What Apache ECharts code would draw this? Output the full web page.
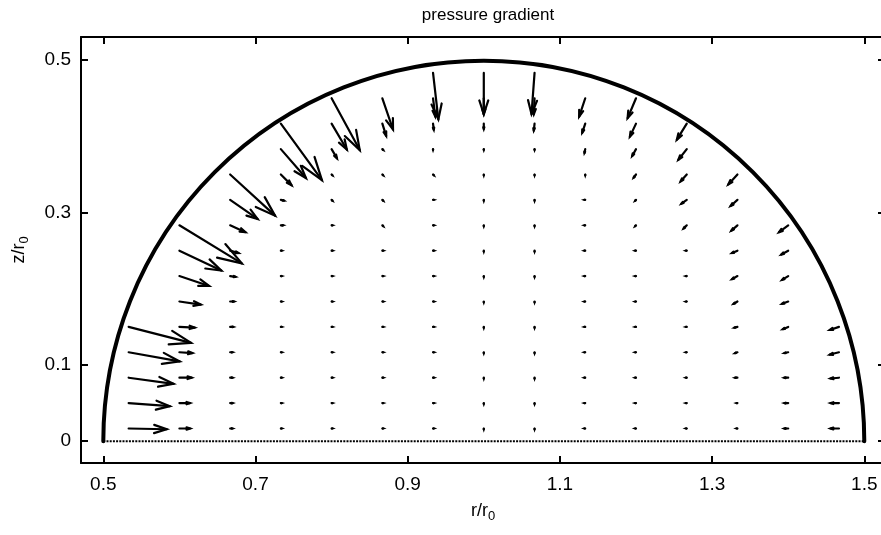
<!DOCTYPE html>
<html>
<head>
<meta charset="utf-8">
<script src="https://cdn.jsdelivr.net/npm/echarts@6/dist/echarts.min.js"></script>
<style>html,body{margin:0;padding:0;background:#fff}#c{width:881px;height:535px}</style>
</head>
<body>
<div id="c"></div>
<script>
// grid of arrow tails (r/r0 columns, z/r0 rows)
const rGrid = [0.5333, 0.6, 0.6667, 0.7333, 0.8, 0.8667, 0.9333, 1.0, 1.0667, 1.1333, 1.2, 1.2667, 1.3333, 1.4, 1.4667];
const zGrid = [0.0167, 0.05, 0.0833, 0.1167, 0.15, 0.1833, 0.2167, 0.25, 0.2833, 0.3167, 0.35, 0.3833, 0.4167, 0.45, 0.4833];
// vector components per column (rows from bottom), in r/r0 and z/r0 units as drawn
const uCols = [
  [0.050, 0.054, 0.059, 0.067, 0.082],
  [0.014, 0.014, 0.016, 0.017, 0.020, 0.028, 0.039, 0.055, 0.082],
  [0.003, 0.003, 0.003, 0.003, 0.004, 0.005, 0.007, 0.011, 0.020, 0.036, 0.059],
  [0.001, 0.001, 0.001, 0.001, 0.001, 0.001, 0.001, 0.001, 0.003, 0.004, 0.014, 0.033, 0.054],
  [0.001, 0.001, 0.001, 0.001, 0.001, 0.001, 0.001, 0.001, 0.001, 0.001, 0.001, 0.007, 0.020, 0.037],
  [0.001, 0.001, 0.001, 0.001, 0.001, 0.001, 0.001, 0.001, 0.001, 0.001, 0.001, 0.001, 0.005, 0.014],
  [0.001, 0.001, 0.001, 0.001, 0.001, 0.001, 0.001, 0.001, 0.001, 0.001, 0.001, 0.000, 0.001, 0.003, 0.007],
  [0.000, 0.000, 0.000, 0.000, 0.000, 0.000, 0.000, 0.000, 0.000, 0.000, 0.000, 0.000, 0.000, 0.000, 0.000],
  [0.000, 0.000, 0.000, 0.000, 0.000, 0.000, 0.000, 0.000, 0.000, 0.000, 0.000, 0.000, -0.001, -0.001, -0.004],
  [-0.001, -0.001, -0.001, -0.001, -0.001, -0.001, -0.001, -0.001, -0.001, -0.001, 0.000, -0.001, -0.004, -0.008],
  [-0.001, -0.001, -0.001, -0.001, -0.001, -0.001, -0.001, -0.001, -0.001, -0.001, -0.003, -0.005, -0.008, -0.011],
  [-0.001, -0.001, -0.001, -0.001, -0.001, -0.001, -0.001, -0.001, -0.004, -0.007, -0.008, -0.011, -0.013],
  [-0.001, -0.001, -0.003, -0.003, -0.004, -0.005, -0.007, -0.007, -0.008, -0.009, -0.012],
  [-0.005, -0.005, -0.005, -0.005, -0.007, -0.008, -0.008, -0.009, -0.012],
  [-0.011, -0.011, -0.011, -0.012, -0.012]
];
const vCols = [
  [-0.001, -0.004, -0.008, -0.012, -0.021],
  [0.000, 0.000, 0.000, -0.001, -0.001, -0.004, -0.013, -0.026, -0.050],
  [0.000, 0.000, 0.000, 0.000, 0.000, 0.000, -0.001, -0.003, -0.009, -0.025, -0.054],
  [0.000, 0.000, 0.000, 0.000, 0.000, 0.000, 0.000, 0.000, 0.000, -0.001, -0.014, -0.038, -0.074],
  [0.000, 0.000, 0.000, 0.000, 0.000, 0.000, 0.000, 0.000, 0.000, -0.001, -0.001, -0.012, -0.034, -0.068],
  [0.000, 0.000, 0.000, 0.000, 0.000, 0.000, 0.000, 0.000, -0.001, -0.001, -0.001, -0.001, -0.016, -0.041],
  [0.000, 0.000, 0.000, 0.000, 0.000, 0.000, 0.000, 0.000, 0.000, 0.000, -0.001, -0.001, -0.008, -0.024, -0.061],
  [-0.001, -0.001, -0.001, -0.001, -0.001, -0.001, -0.001, -0.001, -0.001, -0.001, -0.001, -0.001, -0.007, -0.021, -0.054],
  [-0.001, -0.001, -0.001, -0.001, -0.001, -0.001, -0.001, -0.001, -0.001, -0.001, -0.001, -0.001, -0.009, -0.021, -0.054],
  [0.000, 0.000, 0.000, 0.000, 0.000, 0.000, 0.000, 0.000, 0.000, 0.000, -0.001, -0.005, -0.012, -0.024],
  [0.000, 0.000, 0.000, 0.000, 0.000, 0.000, 0.000, 0.000, -0.001, -0.001, -0.004, -0.009, -0.017, -0.026],
  [0.000, 0.000, 0.000, 0.000, 0.000, 0.000, 0.000, 0.000, -0.004, -0.005, -0.009, -0.014, -0.021],
  [0.000, 0.000, 0.000, -0.001, -0.001, -0.003, -0.004, -0.003, -0.007, -0.008, -0.013],
  [0.000, 0.000, 0.000, -0.001, -0.003, -0.003, -0.005, -0.005, -0.009],
  [0.000, 0.000, -0.001, -0.003, -0.004]
];
// boundary: half circle centre (r, z) and radius
const boundary = [[1.0, 0.0, 0.5]];
const baseLine = [[0.5, 0], [1.5, 0]];
const xTicks = [0.5, 0.7, 0.9, 1.1, 1.3, 1.5];
const yTicks = [0, 0.1, 0.3, 0.5];
const xRange = [0.4707, 1.5272];
const yRange = [-0.0286, 0.5304];

const quiverData = [];
rGrid.forEach((r, i) => {
  uCols[i].forEach((u, j) => {
    quiverData.push([r, zGrid[j], u, vCols[i][j]]);
  });
});

const FONT = 'Liberation Sans, Arial, Helvetica, sans-serif';
const lineSt = { stroke: '#000', lineWidth: 2.2, fill: null, lineCap: 'round', lineJoin: 'miter' };

function axisCommon(pos, ticks, showLabel, range) {
  return {
    type: 'value', position: pos, min: range[0], max: range[1],
    axisLine: { show: true, onZero: false, lineStyle: { color: '#000', width: 2 } },
    axisTick: { show: true, inside: true, length: 7, customValues: ticks, lineStyle: { color: '#000', width: 2 } },
    axisLabel: { show: showLabel, customValues: ticks, color: '#000', fontSize: 19, fontFamily: FONT,
      margin: 10, formatter: v => String(v) },
    splitLine: { show: false }
  };
}

const xBottom = Object.assign(axisCommon('bottom', xTicks, true, xRange), {
  name: '{a|r/r}{b|0}', nameLocation: 'middle', nameGap: 36,
  nameTextStyle: { fontFamily: FONT, color: '#000', rich: {
    a: { fontSize: 18, lineHeight: 24, fontFamily: FONT, color: '#000' },
    b: { fontSize: 13, lineHeight: 13, verticalAlign: 'bottom', fontFamily: FONT, color: '#000' } } }
});
xBottom.axisLabel.margin = 12;
const xTop = axisCommon('top', xTicks, false, xRange);
const yLeft = Object.assign(axisCommon('left', yTicks, true, yRange), {
  name: '{a|z/r}{b|0}', nameLocation: 'middle', nameGap: 50, nameRotate: 90,
  nameTextStyle: { fontFamily: FONT, color: '#000', rich: {
    a: { fontSize: 18, lineHeight: 24, fontFamily: FONT, color: '#000' },
    b: { fontSize: 13, lineHeight: 13, verticalAlign: 'bottom', fontFamily: FONT, color: '#000' } } }
});
const yRight = axisCommon('right', yTicks, false, yRange);

const chart = echarts.init(document.getElementById('c'), null, { renderer: 'canvas' });
chart.setOption({
  animation: false,
  backgroundColor: '#fff',
  title: {
    text: 'pressure gradient', left: 483, top: 2, textAlign: 'center',
    textStyle: { fontFamily: FONT, fontSize: 17, fontWeight: 'normal', color: '#000' }
  },
  grid: { left: 81, top: 37, width: 804, height: 426, outerBoundsMode: 'none', containLabel: false },
  xAxis: [xBottom, xTop],
  yAxis: [yLeft, yRight],
  series: [
    {
      type: 'line', data: baseLine, xAxisIndex: 0, yAxisIndex: 0, symbol: 'none',
      lineStyle: { color: '#000', width: 2, type: [2, 1.2] }, silent: true
    },
    {
      type: 'custom', xAxisIndex: 0, yAxisIndex: 0, data: boundary, silent: true,
      renderItem: (params, api) => {
        const c = api.coord([api.value(0), api.value(1)]);
        const e = api.coord([api.value(0) + api.value(2), api.value(1)]);
        return { type: 'arc', shape: { cx: c[0], cy: c[1], r: e[0] - c[0], startAngle: Math.PI, endAngle: 2 * Math.PI, clockwise: true },
          style: { stroke: '#000', lineWidth: 4, fill: null, lineCap: 'round' } };
      }
    },
    {
      type: 'custom', xAxisIndex: 0, yAxisIndex: 0, data: quiverData, silent: true,
      renderItem: (params, api) => {
        const r = api.value(0), z = api.value(1), u = api.value(2), v = api.value(3);
        const p0 = api.coord([r, z]);
        const p1 = api.coord([r + u, z + v]);
        const dx = p1[0] - p0[0], dy = p1[1] - p0[1];
        const a = 0.33, b = 0.33;
        const h1 = [p1[0] - a * (dx + b * dy), p1[1] - a * (dy - b * dx)];
        const h2 = [p1[0] - a * (dx - b * dy), p1[1] - a * (dy + b * dx)];
        return { type: 'group', children: [
          { type: 'polyline', shape: { points: [p0, p1] }, style: lineSt },
          { type: 'polyline', shape: { points: [h1, p1, h2] }, style: lineSt }
        ] };
      }
    }
  ]
});
</script>
</body>
</html>
